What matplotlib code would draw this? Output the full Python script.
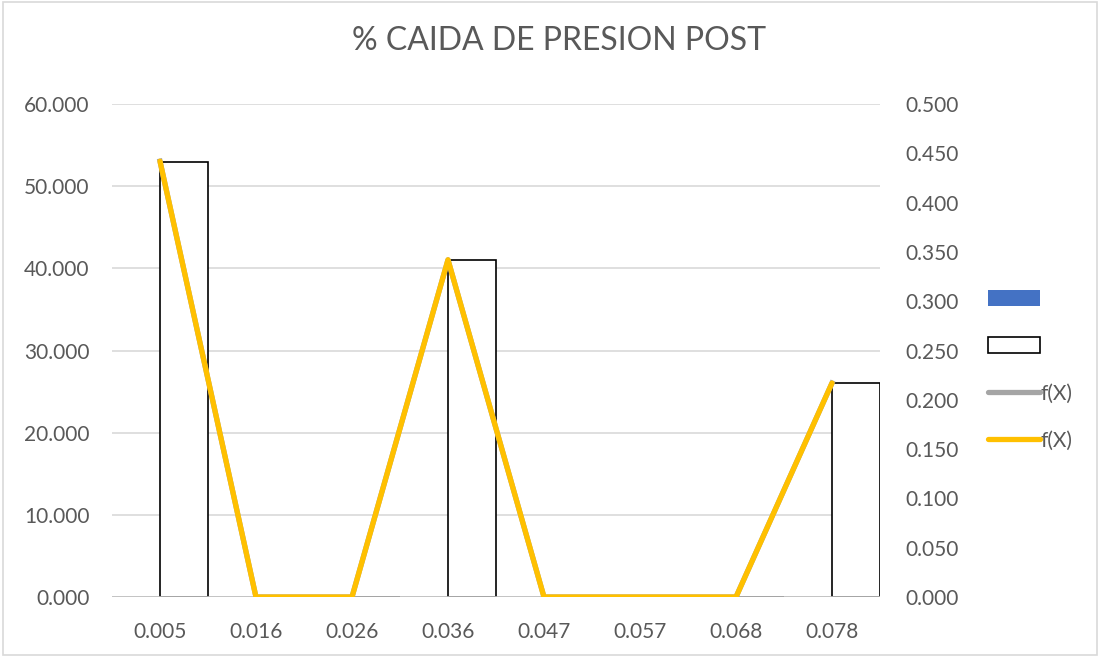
import numpy as np
import matplotlib
matplotlib.use("Agg")
import matplotlib.pyplot as plt
from matplotlib.patches import Rectangle, Patch
from matplotlib.lines import Line2D

plt.rcParams['font.family'] = ['Lato', 'DejaVu Sans']

categorias = ['0.005', '0.016', '0.026', '0.036', '0.047', '0.057', '0.068', '0.078']
serie_azul = [0, 0, 0, 0, 0, 0, 0, 0]
serie_blanca = [53, 0, 0, 41, 0, 0, 0, 26]
fx_gris = [0.442, 0, 0, 0.342, 0, 0, 0, 0.217]
fx_amarillo = [0.442, 0, 0, 0.342, 0, 0, 0, 0.217]

txt = '#595959'
x = np.arange(len(categorias))

fig = plt.figure(figsize=(11, 6.57), dpi=100)
fig.patches.append(Rectangle((0.003, 0.003), 0.994, 0.994, transform=fig.transFigure,
                             fill=False, edgecolor='#D9D9D9', linewidth=1.2))
ax = fig.add_axes([0.1018, 0.0913, 0.6982, 0.7504])
ax2 = ax.twinx()

ax.bar(x - 0.25, serie_azul, width=0.5, color='#4472C4', zorder=2)
ax.bar(x + 0.25, serie_blanca, width=0.5, facecolor='white', edgecolor='black',
       linewidth=1.2, zorder=2)
ax.set_ylim(0, 60)
ax.set_yticks(np.arange(0, 61, 10))
ax.set_yticklabels([f'{v:.3f}' for v in np.arange(0, 61, 10)])
ax.set_xlim(-0.5, len(categorias) - 0.5)
ax.set_xticks(x)
ax.set_xticklabels(categorias)
ax.grid(axis='y', color='#D9D9D9', linewidth=1.2, zorder=0)
ax.set_axisbelow(True)
ax.axhline(0, color='#BFBFBF', linewidth=1.2, zorder=3)

ax2.plot(x, fx_gris, color='#A5A5A5', linewidth=3.8, solid_joinstyle='round', zorder=3)
ax2.plot(x, fx_amarillo, color='#FFC000', linewidth=3.8, solid_joinstyle='round',
         solid_capstyle='round', zorder=4)
ax2.set_ylim(0, 0.5)
ax2.set_yticks(np.arange(0, 0.501, 0.05))
ax2.set_yticklabels([f'{v:.3f}' for v in np.arange(0, 0.501, 0.05)])

for a in (ax, ax2):
    for s in a.spines.values():
        s.set_visible(False)
    a.tick_params(length=0, labelsize=15, colors=txt)
ax.tick_params(axis='y', pad=16)
ax.tick_params(axis='x', pad=18)
ax2.tick_params(pad=18)

fig.suptitle('% CAIDA DE PRESION POST', x=0.508, y=0.96, fontsize=23, color=txt)

handles = [Patch(facecolor='#4472C4', edgecolor='none'),
           Patch(facecolor='white', edgecolor='black', linewidth=1.2),
           Line2D([], [], color='#A5A5A5', linewidth=3.8, solid_capstyle='round'),
           Line2D([], [], color='#FFC000', linewidth=3.8, solid_capstyle='round')]
labels = ['', '', 'f(X)', 'f(X)']
fig.legend(handles, labels, loc='center left', bbox_to_anchor=(0.881, 0.437),
           frameon=False, fontsize=15, labelcolor=txt, handlelength=2.5,
           handleheight=0.75, handletextpad=0.05, labelspacing=1.3)

fig.savefig('out.png', dpi=100)
